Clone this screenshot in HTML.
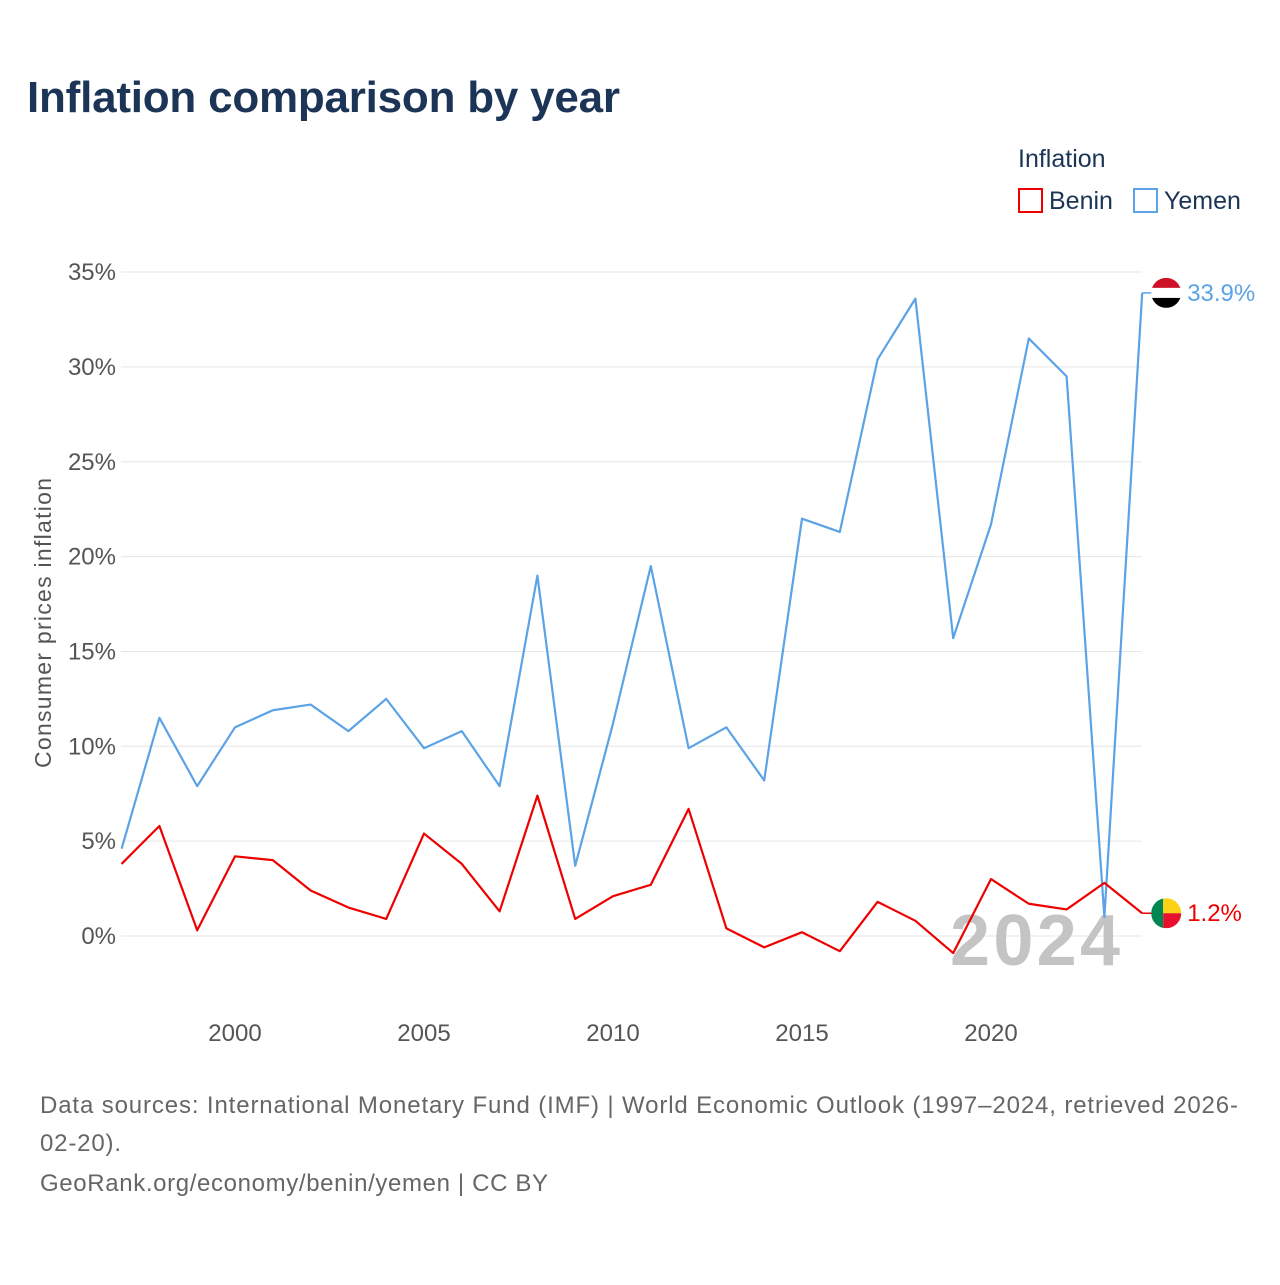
<!DOCTYPE html>
<html><head><meta charset="utf-8"><style>
body{margin:0;background:#fff;font-family:"Liberation Sans",sans-serif;}
</style></head><body>
<svg id="chart" width="1280" height="1280" viewBox="0 0 1280 1280" xmlns="http://www.w3.org/2000/svg">
<rect width="1280" height="1280" fill="#fff"/>
<text x="27" y="112" font-size="44" font-weight="bold" fill="#1c3557" textLength="593">Inflation comparison by year</text>
<text x="1018" y="167" font-size="25" fill="#1c3557">Inflation</text>
<g><rect x="1019" y="189" width="23" height="23" fill="none" stroke="#ee0000" stroke-width="2"/><text x="1049" y="209" font-size="25" fill="#1c3557">Benin</text></g>
<g><rect x="1134" y="189" width="23" height="23" fill="none" stroke="#5ba3e6" stroke-width="2"/><text x="1164" y="209" font-size="25" fill="#1c3557">Yemen</text></g>
<g id="grid"></g>
<text transform="translate(51,623) rotate(-90)" text-anchor="middle" font-size="23" fill="#555" textLength="290">Consumer prices inflation</text>
<text x="950" y="965" font-size="72" font-weight="bold" fill="#c4c4c4" textLength="170">2024</text>
<g id="series"></g>
<text x="40" y="1113" font-size="24" fill="#666" textLength="1198">Data sources: International Monetary Fund (IMF) | World Economic Outlook (1997–2024, retrieved 2026-</text>
<text x="40" y="1151" font-size="24" fill="#666" textLength="81">02-20).</text>
<text x="40" y="1191" font-size="24" fill="#666" textLength="508">GeoRank.org/economy/benin/yemen | CC BY</text>
</svg>
<script>
const years=[1997,1998,1999,2000,2001,2002,2003,2004,2005,2006,2007,2008,2009,2010,2011,2012,2013,2014,2015,2016,2017,2018,2019,2020,2021,2022,2023,2024];
const yemen=[4.6,11.5,7.9,11.0,11.9,12.2,10.8,12.5,9.9,10.8,7.9,19.0,3.7,11.2,19.5,9.9,11.0,8.2,22.0,21.3,30.4,33.6,15.7,21.7,31.5,29.5,1.0,33.9];
const benin=[3.8,5.8,0.3,4.2,4.0,2.4,1.5,0.9,5.4,3.8,1.3,7.4,0.9,2.1,2.7,6.7,0.4,-0.6,0.2,-0.8,1.8,0.8,-0.9,3.0,1.7,1.4,2.8,1.2];
const yTicks=[0,5,10,15,20,25,30,35];
const xTicks=[2000,2005,2010,2015,2020];
const NS="http://www.w3.org/2000/svg";
const xs=y=>121.6+(y-1997)*37.8;
const ys=v=>936-v*18.97;
const grid=document.getElementById('grid'),ser=document.getElementById('series');
function mk(tag,attrs,parent){const e=document.createElementNS(NS,tag);for(const k in attrs)e.setAttribute(k,attrs[k]);parent.appendChild(e);return e;}
yTicks.forEach(t=>{
 const l=mk('line',{x1:121,x2:1142,y1:ys(t),y2:ys(t),stroke:'#e6e6e6','stroke-width':1},grid);
 
 
 const tx=mk('text',{x:116,y:ys(t)+8,'text-anchor':'end','font-size':24,fill:'#555'},grid);
 tx.textContent=t+'%';
 
 
});
xTicks.forEach(t=>{
 const tx=mk('text',{x:xs(t),y:1041,'text-anchor':'middle','font-size':24,fill:'#555'},grid);
 tx.textContent=t;
 
 
});
function line(vals,color,name){
 const p=mk('polyline',{points:vals.map((v,i)=>xs(years[i])+','+ys(v)).join(' '),fill:'none',stroke:color,'stroke-width':2.2,'stroke-linejoin':'round'},ser);
 
 
}
line(yemen,'#5ba3e6','yemen-line');
line(benin,'#ee0000','benin-line');
function endLabel(v,color,name,flag){
 const y=ys(v),x=xs(2024);
 mk('line',{x1:x,x2:x+10,y1:y,y2:y,stroke:color,'stroke-width':1.5},ser);
 const g=mk('g',{},ser);
 
 
 flag(g,x+24,y);
 const t=mk('text',{x:x+45,y:y+8,'font-size':24,fill:color},ser);
 t.textContent=v.toFixed(1)+'%';
 
 
}
endLabel(yemen[yemen.length-1],'#5ba3e6','yemen',(g,cx,cy)=>{
 mk('clipPath',{id:'cy'},g).appendChild(document.createElementNS(NS,'circle'));
 const c=g.querySelector('clipPath circle');c.setAttribute('cx',cx);c.setAttribute('cy',cy);c.setAttribute('r',15);
 mk('rect',{x:cx-15,y:cy-15,width:30,height:10,fill:'#ce1126','clip-path':'url(#cy)'},g);
 mk('rect',{x:cx-15,y:cy-5,width:30,height:10,fill:'#fff','clip-path':'url(#cy)'},g);
 mk('rect',{x:cx-15,y:cy+5,width:30,height:10,fill:'#000','clip-path':'url(#cy)'},g);
});
endLabel(benin[benin.length-1],'#ee0000','benin',(g,cx,cy)=>{
 mk('clipPath',{id:'cb'},g).appendChild(document.createElementNS(NS,'circle'));
 const c=g.querySelector('clipPath circle');c.setAttribute('cx',cx);c.setAttribute('cy',cy);c.setAttribute('r',15);
 mk('rect',{x:cx-15,y:cy-15,width:12,height:30,fill:'#008751','clip-path':'url(#cb)'},g);
 mk('rect',{x:cx-3,y:cy-15,width:18,height:15,fill:'#fcd116','clip-path':'url(#cb)'},g);
 mk('rect',{x:cx-3,y:cy,width:18,height:15,fill:'#e8112d','clip-path':'url(#cb)'},g);
});
</script>
</body></html>
